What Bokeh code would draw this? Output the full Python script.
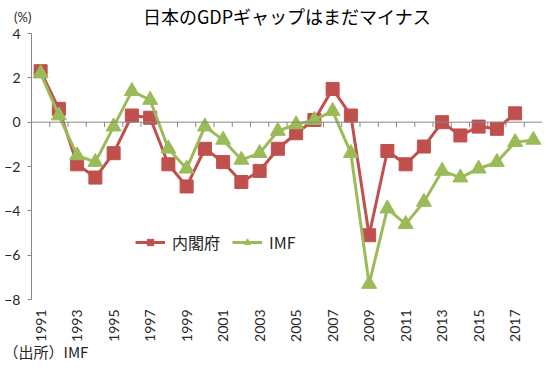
import math
from bokeh.plotting import figure
from bokeh.models import Range1d, FixedTicker, Span, Legend, LinearAxis, Title
from bokeh.embed import file_html
from bokeh.resources import INLINE

years_cao = list(range(1991, 2018))
cao = [2.3, 0.6, -1.9, -2.5, -1.4, 0.3, 0.2, -1.9, -2.9, -1.2, -1.8, -2.7, -2.2,
       -1.2, -0.5, 0.1, 1.5, 0.3, -5.1, -1.3, -1.9, -1.1, 0.0, -0.6, -0.2, -0.3, 0.4]
years_imf = list(range(1991, 2019))
imf = [2.2, 0.3, -1.5, -1.8, -0.2, 1.4, 1.0, -1.2, -2.1, -0.2, -0.8, -1.7, -1.4,
       -0.4, -0.1, 0.1, 0.5, -1.4, -7.3, -3.9, -4.6, -3.6, -2.2, -2.5, -2.1, -1.8, -0.9, -0.8]
label_years = list(range(1991, 2018, 2))
y_ticks = [-8, -6, -4, -2, 0, 2, 4]
x_start, x_end = 1990.5, 2018.5

RED = "#C0504D"
GREEN = "#9BBB59"
AXIS = "#868686"
TXT = "#262626"

p = figure(width=542, height=363, output_backend="svg", toolbar_location=None,
           x_range=Range1d(x_start, x_end), y_range=Range1d(-8, 4),
           min_border_left=31, min_border_right=0, min_border_top=33, min_border_bottom=64)
p.outline_line_color = None
p.grid.visible = False
p.background_fill_color = "white"

# y axis
ya = p.left[0]
ya.ticker = FixedTicker(ticks=y_ticks)
ya.axis_line_color = AXIS
ya.major_tick_line_color = AXIS
ya.major_tick_out = 4
ya.major_tick_in = 0
ya.minor_tick_line_color = None
ya.major_label_text_font = "Lato"
ya.major_label_text_font_size = "14px"
ya.major_label_text_color = TXT
ya.major_label_standoff = 7

# bottom x axis (year labels only)
xa = p.below[0]
xa.ticker = FixedTicker(ticks=label_years)
xa.axis_line_color = None
xa.major_tick_line_color = None
xa.minor_tick_line_color = None
xa.major_tick_out = 0
xa.major_tick_in = 0
xa.major_label_orientation = math.pi / 2
xa.major_label_text_font = "Lato"
xa.major_label_text_font_size = "14px"
xa.major_label_text_color = TXT
xa.major_label_standoff = 10

# top axis carrying the "(%)" unit and the chart title
top = LinearAxis(ticker=FixedTicker(ticks=[x_start]),
                 major_label_overrides={x_start: "(%)"},
                 axis_line_color=None, major_tick_line_color=None, minor_tick_line_color=None,
                 major_tick_out=0, major_tick_in=0,
                 major_label_orientation=-0.0001, major_label_standoff=16,
                 major_label_text_font="Lato", major_label_text_font_size="13px",
                 major_label_text_color=TXT,
                 axis_label="日本のGDPギャップはまだマイナス",
                 axis_label_text_font="Noto Sans CJK JP", axis_label_text_font_size="18px",
                 axis_label_text_font_style="normal", axis_label_text_color="#000000",
                 axis_label_standoff=-31)
p.add_layout(top, "above")

# source note
p.add_layout(Title(text="（出所）IMF", align="left", offset=-28,
                   text_font="Noto Sans CJK JP", text_font_size="15px",
                   text_font_style="normal", text_color=TXT, standoff=-12), "below")

# zero line with category boundary ticks
p.add_layout(Span(location=0, dimension="width", line_color=AXIS, line_width=1))
bounds = [y + 0.5 for y in years_cao]
p.segment(x0=bounds, y0=[0] * len(bounds), x1=bounds, y1=[-0.22] * len(bounds),
          line_color=AXIS, line_width=1)

# series
r1 = p.line(years_cao, cao, line_color=RED, line_width=3)
r2 = p.scatter(years_cao, cao, marker="square", size=13, fill_color=RED, line_color=RED)
r3 = p.line(years_imf, imf, line_color=GREEN, line_width=3)
r4 = p.scatter(years_imf, imf, marker="triangle", size=15, fill_color=GREEN, line_color=GREEN)

legend = Legend(items=[("内閣府", [r1, r2]), ("IMF", [r3, r4])],
                orientation="horizontal", location=(104, 45),
                label_text_font="Noto Sans CJK JP", label_text_font_size="16px",
                label_text_color=TXT, glyph_width=30, glyph_height=16,
                label_standoff=7, spacing=12, padding=0, margin=0,
                background_fill_alpha=0, border_line_color=None)
p.add_layout(legend)

open("out.html", "w").write(file_html(p, INLINE))
